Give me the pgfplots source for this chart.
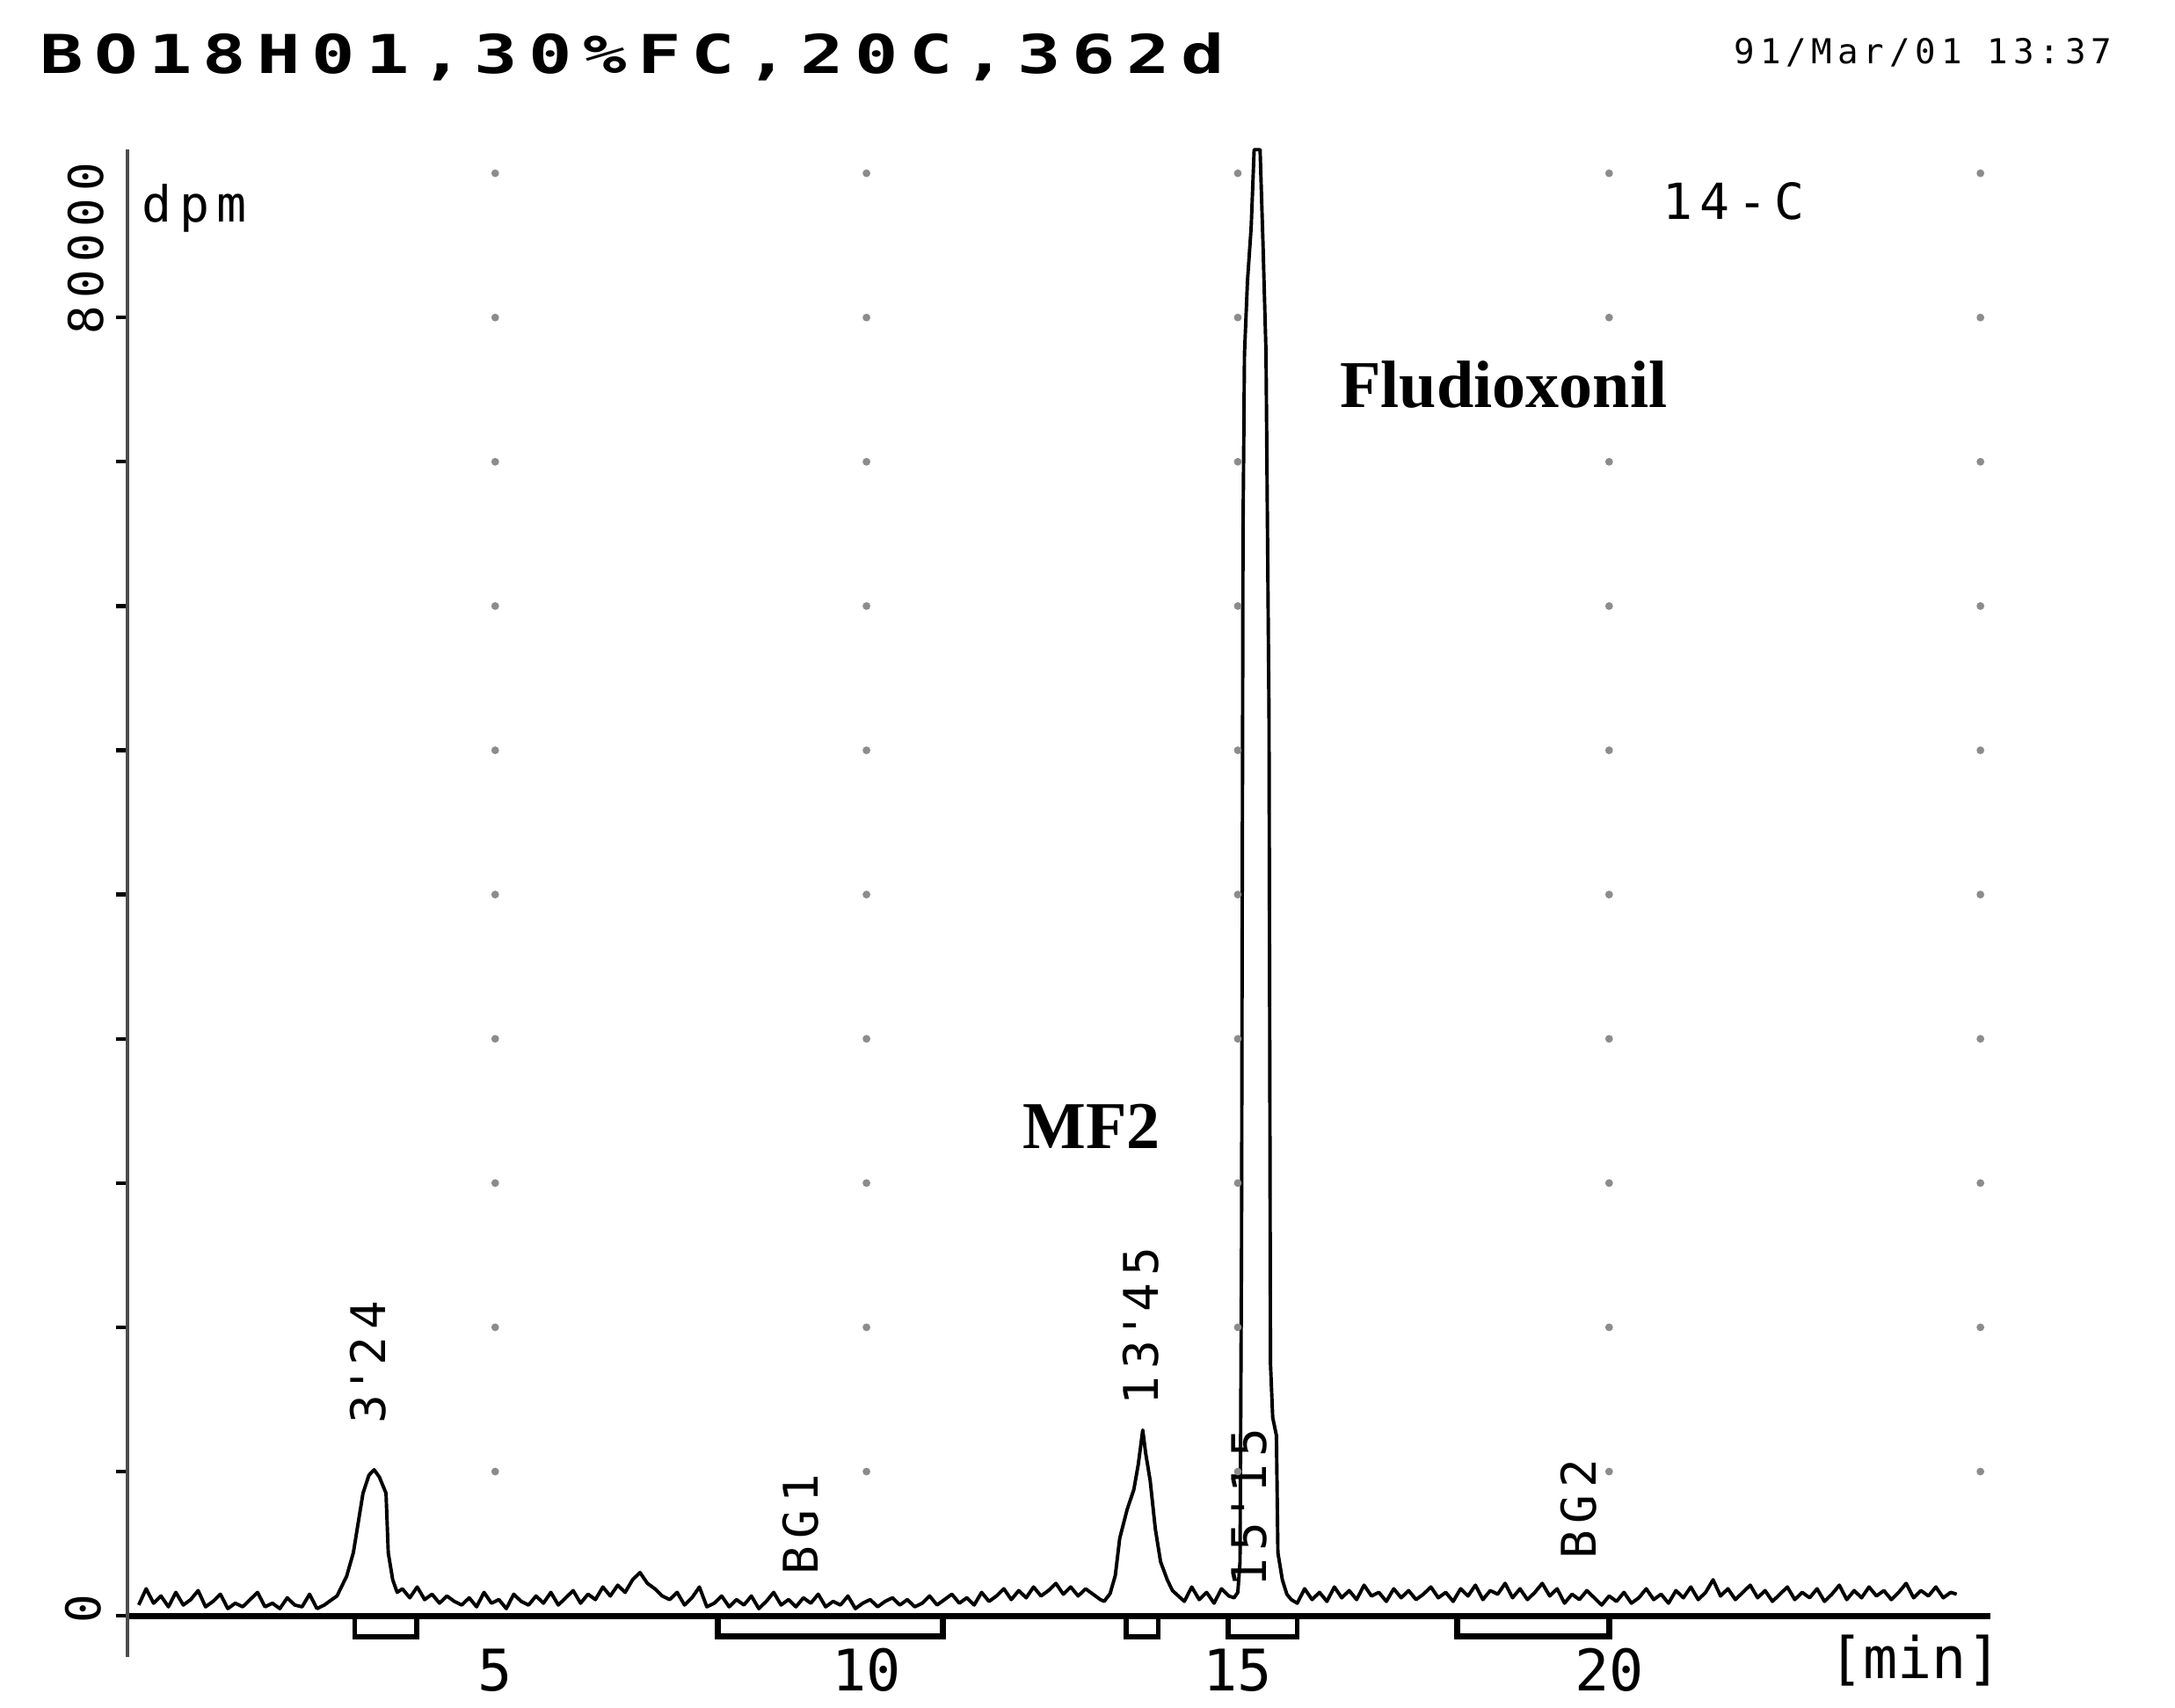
\documentclass[border=0pt]{standalone}
\usepackage{fontspec}
\usepackage{graphicx}
\usepackage{pgfplots}
\pgfplotsset{compat=1.18}
\setmainfont{Liberation Serif}
\newfontfamily\dotfont[LetterSpace=15]{DejaVu Sans Mono}
\newfontfamily\monofont{DejaVu Sans Mono}

% radioactivity trace, dpm against retention time (min)
\pgfplotstableread{
t dpm
0.20 600
0.30 1500
0.40 700
0.50 1100
0.60 500
0.70 1300
0.80 600
0.90 900
1.00 1400
1.10 500
1.20 800
1.30 1200
1.40 400
1.50 700
1.60 500
1.70 900
1.80 1300
1.90 500
2.00 700
2.10 400
2.20 1000
2.30 600
2.40 500
2.50 1200
2.60 400
2.70 600
2.80 900
2.87 1100
3.00 2200
3.09 3500
3.22 6800
3.30 7800
3.37 8100
3.44 7700
3.53 6800
3.56 3500
3.62 2000
3.68 1300
3.75 1500
3.85 1000
3.95 1600
4.05 900
4.15 1200
4.25 700
4.35 1100
4.45 800
4.55 600
4.65 1000
4.75 500
4.85 1300
4.95 700
5.05 900
5.15 400
5.25 1200
5.35 800
5.45 600
5.55 1100
5.65 700
5.75 1300
5.85 600
5.95 1000
6.05 1400
6.15 700
6.25 1200
6.35 900
6.45 1600
6.55 1100
6.65 1700
6.75 1300
6.85 2000
6.95 2400
7.05 1800
7.15 1500
7.25 1100
7.35 900
7.45 1300
7.55 600
7.65 1000
7.75 1600
7.85 500
7.95 700
8.05 1100
8.15 500
8.25 900
8.35 600
8.45 1100
8.55 400
8.65 800
8.75 1300
8.85 600
8.95 900
9.05 500
9.15 1000
9.25 700
9.35 1200
9.45 500
9.55 800
9.65 600
9.75 1100
9.85 400
9.95 700
10.05 900
10.15 500
10.25 800
10.35 1000
10.45 600
10.55 900
10.65 500
10.75 700
10.85 1100
10.95 600
11.05 900
11.15 1200
11.25 700
11.35 1000
11.45 600
11.55 1300
11.65 800
11.75 1100
11.85 1500
11.95 900
12.05 1400
12.15 1000
12.25 1600
12.35 1100
12.45 1400
12.55 1800
12.65 1200
12.75 1600
12.85 1100
12.95 1500
13.05 1200
13.15 900
13.20 800
13.28 1230
13.35 2230
13.41 4300
13.51 5900
13.60 7000
13.66 8400
13.72 10300
13.76 9000
13.82 7500
13.89 4800
13.96 3000
14.05 2000
14.12 1400
14.28 800
14.38 1600
14.48 900
14.58 1300
14.68 700
14.78 1500
14.88 1100
14.95 1000
15.00 1300
15.03 3000
15.05 20000
15.07 60000
15.09 70000
15.13 74000
15.18 77000
15.22 81308
15.30 81308
15.34 76000
15.38 70000
15.42 50000
15.44 14000
15.47 11000
15.52 10000
15.54 3500
15.60 2000
15.66 1200
15.72 900
15.80 700
15.90 1500
16.00 900
16.10 1300
16.20 800
16.30 1600
16.40 1000
16.50 1400
16.60 900
16.70 1700
16.80 1100
16.90 1300
17.00 800
17.10 1500
17.20 1000
17.30 1400
17.40 900
17.50 1200
17.60 1600
17.70 1000
17.80 1300
17.90 800
18.00 1500
18.10 1100
18.20 1700
18.30 900
18.40 1400
18.50 1200
18.60 1800
18.70 1000
18.80 1500
18.90 900
19.00 1300
19.10 1800
19.20 1100
19.30 1500
19.40 700
19.50 1200
19.60 900
19.70 1400
19.80 1000
19.90 600
20.00 1100
20.10 800
20.20 1300
20.30 700
20.40 1000
20.50 1500
20.60 900
20.70 1200
20.80 700
20.90 1400
21.00 1000
21.10 1600
21.20 900
21.30 1300
21.40 2000
21.50 1100
21.60 1500
21.70 900
21.80 1300
21.90 1700
22.00 1000
22.10 1400
22.20 800
22.30 1200
22.40 1600
22.50 900
22.60 1300
22.70 1000
22.80 1500
22.90 800
23.00 1200
23.10 1700
23.20 900
23.30 1400
23.40 1000
23.50 1600
23.60 1100
23.70 1400
23.80 900
23.90 1300
24.00 1800
24.10 1000
24.20 1400
24.30 1100
24.40 1600
24.50 1000
24.60 1300
24.68 1200
}\trace

\begin{document}
\begin{tikzpicture}
\path[use as bounding box] (-1.1735,-0.4592) rectangle (18.826,15.242);
\begin{axis}[
  scale only axis,
  width=17.13cm, height=13.865cm,
  at={(0,0)}, anchor=south west,
  xmin=0.0504, xmax=25.137,
  ymin=-2308, ymax=81308,
  axis x line=middle, axis y line=left,
  axis line style={-},
  x axis line style={line width=1.6pt},
  y axis line style={line width=0.8pt, black!70},
  clip=false,
  xtick={5,10,15,20},
  xticklabels={5,10,15,20},
  major x tick style={draw=none},
  xticklabel style={font=\fontsize{15}{15}\selectfont\monofont, anchor=base, yshift=-0.58cm},
  ytick={0,8000,16000,24000,32000,40000,48000,56000,64000,72000},
  yticklabels={},
  scaled y ticks=false,
  tick align=outside,
  major tick length=0.11cm,
  major y tick style={line width=1pt, black},
]
% grid dots
\pgfplotsinvokeforeach{5,10,15,20,25}{
  \addplot[only marks, mark=*, mark size=0.8pt, black!45]
    coordinates {(#1,8000)(#1,16000)(#1,24000)(#1,32000)(#1,40000)
                 (#1,48000)(#1,56000)(#1,64000)(#1,72000)(#1,80000)};
}
\addplot[black, line width=0.9pt, line join=round] table[x=t, y=dpm] {\trace};

% integration ranges below the baseline
\draw[line width=1.3pt] (axis cs:3.11,0) -- (axis cs:3.11,-1150) -- (axis cs:3.94,-1150) -- (axis cs:3.94,0);
\draw[line width=1.6pt] (axis cs:8.00,0) -- (axis cs:8.00,-1150) -- (axis cs:11.03,-1150) -- (axis cs:11.03,0);
\draw[line width=1.3pt] (axis cs:13.50,0) -- (axis cs:13.50,-1150) -- (axis cs:13.93,-1150) -- (axis cs:13.93,0);
\draw[line width=1.3pt] (axis cs:14.87,0) -- (axis cs:14.87,-1150) -- (axis cs:15.80,-1150) -- (axis cs:15.80,0);
\draw[line width=1.6pt] (axis cs:17.95,0) -- (axis cs:17.95,-1150) -- (axis cs:20.00,-1150) -- (axis cs:20.00,0);

% peak labels
\node[rotate=90, font=\fontsize{12.5}{12.5}\selectfont\dotfont] at (axis cs:3.29,14070) {3\textquotesingle 24};
\node[rotate=90, font=\fontsize{12.5}{12.5}\selectfont\dotfont] at (axis cs:9.11,5075) {BG1};
\node[rotate=90, font=\fontsize{12.5}{12.5}\selectfont\dotfont] at (axis cs:13.69,16070) {13\textquotesingle 45};
\node[rotate=90, font=\fontsize{12.5}{12.5}\selectfont\dotfont] at (axis cs:15.15,6000) {15\textquotesingle 15};
\node[rotate=90, font=\fontsize{12.5}{12.5}\selectfont\dotfont] at (axis cs:19.59,5920) {BG2};

% axis annotations
\node[rotate=90, font=\fontsize{12.5}{12.5}\selectfont\dotfont] at (axis cs:-0.51,75840) {80000};
\node[rotate=90, font=\fontsize{12.5}{12.5}\selectfont\dotfont] at (axis cs:-0.55,385) {0};
\node[font=\fontsize{13}{13}\selectfont\dotfont] at (axis cs:0.95,78050) {dpm};
\node[font=\fontsize{13}{13}\selectfont\dotfont] at (axis cs:21.68,78460) {14-C};
\node[anchor=base, yshift=-0.58cm, font=\fontsize{15}{15}\selectfont\monofont] at (axis cs:24.12,0) {[min]};

% compound names
\node[font=\fontsize{17.5}{20}\selectfont\bfseries] at (axis cs:18.58,68300) {Fludioxonil};
\node[font=\fontsize{17.5}{20}\selectfont\bfseries] at (axis cs:13.03,27150) {MF2};
\end{axis}
% header lines
\node[anchor=west, font=\fontsize{14}{14}\selectfont\dotfont\bfseries] at (-0.93,14.72)
  {\scalebox{1.35}[1]{BO18H01,30\%FC,20C,362d}};
\node[anchor=east, font=\fontsize{9}{9}\selectfont\dotfont] at (18.37,14.76) {91/Mar/01 13:37};
\end{tikzpicture}
\end{document}
